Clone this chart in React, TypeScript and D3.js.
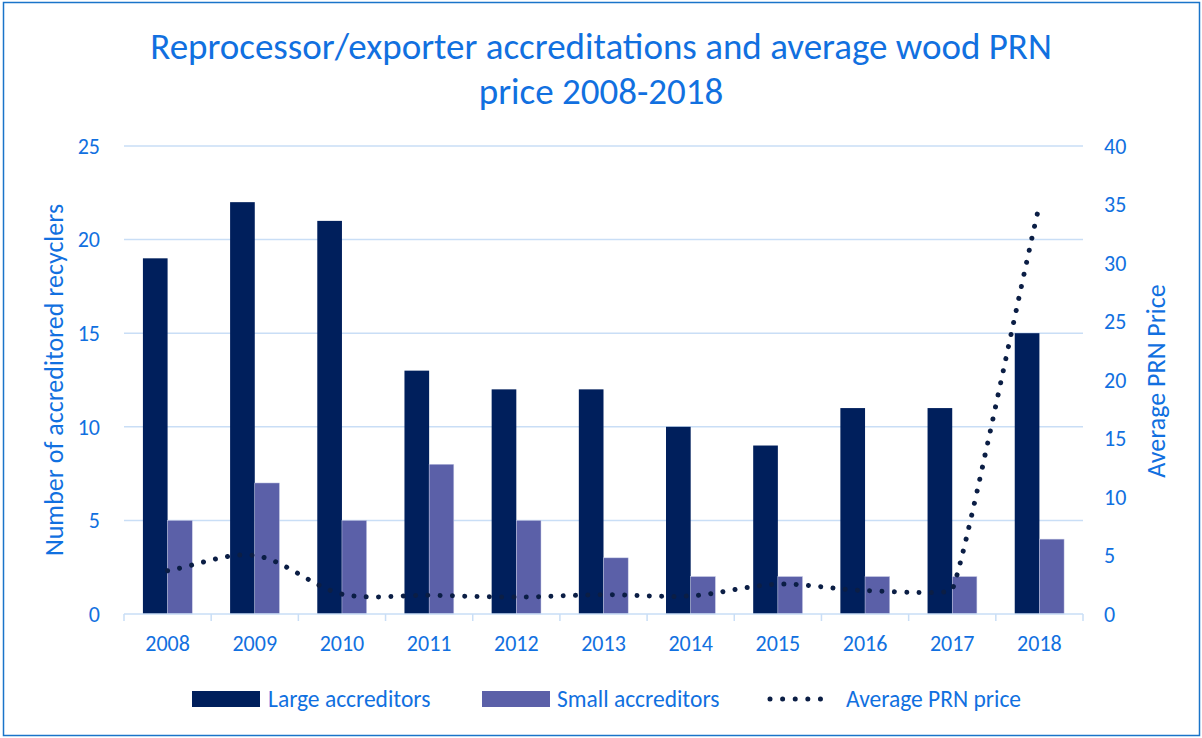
import React from "react";
import * as d3 from "d3";

const years = ["2008","2009","2010","2011","2012","2013","2014","2015","2016","2017","2018"];
const largeAccreditors = [19,22,21,13,12,12,10,9,11,11,15];
const smallAccreditors = [5,7,5,8,5,3,2,2,2,2,4];
const avgPrnPrice = [3.7,5.0,1.7,1.6,1.45,1.65,1.55,2.55,2.0,2.1,35];
const leftTicks = [0,5,10,15,20,25];
const rightTicks = [0,5,10,15,20,25,30,35,40];

const W = 1202, H = 738;
const FONT = "Carlito, Lato, sans-serif";
const BLUE = "#1170e0";
const GRID = "#c9def6";
const LARGE = "#001f5c";
const SMALL = "#5b60a8";
const LINE = "#0b1e45";

// Excel-like smoothed line: Bezier with tangent lengths limited by neighbouring segment lengths
function smoothPath(pts: [number, number][]): string {
  const p = d3.path();
  const n = pts.length;
  const dist = (a: [number, number], b: [number, number]) => Math.hypot(b[0] - a[0], b[1] - a[1]);
  const seg = pts.slice(1).map((q, i) => dist(pts[i], q));
  const unit = (i: number): [number, number] => {
    const a = pts[Math.max(0, i - 1)], b = pts[Math.min(n - 1, i + 1)];
    const l = dist(a, b) || 1;
    return [(b[0] - a[0]) / l, (b[1] - a[1]) / l];
  };
  const f = 1 / 3;
  p.moveTo(pts[0][0], pts[0][1]);
  for (let i = 0; i < n - 1; i++) {
    const d = seg[i];
    const dPrev = i > 0 ? seg[i - 1] : d;
    const dNext = i < n - 2 ? seg[i + 1] : d;
    const u1 = unit(i), u2 = unit(i + 1);
    const l1 = f * d * Math.min(1, dPrev / d);
    const l2 = f * d * Math.min(1, dNext / d) * Math.min(1, d / dNext);
    const l1b = l1 * Math.min(1, d / dPrev);
    p.bezierCurveTo(
      pts[i][0] + u1[0] * l1b, pts[i][1] + u1[1] * l1b,
      pts[i + 1][0] - u2[0] * l2, pts[i + 1][1] - u2[1] * l2,
      pts[i + 1][0], pts[i + 1][1]
    );
  }
  return p.toString();
}

export default function App() {
  const left = 124, right = 1083, top = 146, bottom = 614;
  const x = d3.scaleBand().domain(years).range([left, right]).paddingInner(0).paddingOuter(0);
  const yL = d3.scaleLinear().domain([0, 25]).range([bottom, top]);
  const yR = d3.scaleLinear().domain([0, 40]).range([bottom, top]);
  const bw = x.bandwidth();
  const barW = bw * 0.283;
  const linePts: [number, number][] = avgPrnPrice.map((v, i) => [(x(years[i]) as number) + bw / 2, yR(v)]);

  return (
    <svg width={W} height={H} style={{ position: "absolute", left: 0, top: 0 }} fontFamily={FONT}>
      <rect x={0} y={0} width={W} height={H} fill="#fff" />
      <rect x={3.5} y={2.5} width={W - 6} height={H - 5} fill="none" stroke="#1a74c9" strokeWidth={1.5} />
      <text x={601} y={59} textAnchor="middle" fill={BLUE} fontSize={37}>
        Reprocessor/exporter accreditations and average wood PRN
      </text>
      <text x={601} y={104} textAnchor="middle" fill={BLUE} fontSize={37}>
        price 2008-2018
      </text>
      {leftTicks.map((t) => (
        <g key={"l" + t}>
          {t > 0 && <line x1={left} x2={right} y1={yL(t)} y2={yL(t)} stroke={GRID} strokeWidth={1.5} />}
          <text x={100} y={yL(t)} dy="0.35em" textAnchor="end" fill={BLUE} fontSize={22}>{t}</text>
        </g>
      ))}
      {rightTicks.map((t) => (
        <text key={"r" + t} x={1104} y={yR(t)} dy="0.35em" textAnchor="start" fill={BLUE} fontSize={22}>{t}</text>
      ))}
      {years.map((yr, i) => {
        const x0 = x(yr) as number;
        const cx = x0 + bw / 2;
        return (
          <g key={yr}>
            <rect x={cx - barW} y={yL(largeAccreditors[i])} width={barW} height={bottom - yL(largeAccreditors[i])} fill={LARGE} />
            <rect x={cx} y={yL(smallAccreditors[i])} width={barW} height={bottom - yL(smallAccreditors[i])} fill={SMALL} stroke="#c7cbe6" strokeWidth={0.5} />
            <text x={cx} y={651} textAnchor="middle" fill={BLUE} fontSize={22}>{yr}</text>
          </g>
        );
      })}
      <line x1={left} x2={right} y1={bottom} y2={bottom} stroke={GRID} strokeWidth={1.5} />
      {[...years.map((y) => x(y) as number), right].map((p, i) => (
        <line key={"t" + i} x1={p} x2={p} y1={bottom} y2={bottom + 7} stroke={GRID} strokeWidth={1.5} />
      ))}
      <path d={smoothPath(linePts)} fill="none" stroke={LINE} strokeWidth={5} strokeLinecap="round" strokeDasharray="0.01 12.3" />
      <text transform={`translate(63,380) rotate(-90)`} textAnchor="middle" fill={BLUE} fontSize={26}>
        Number of accreditored recyclers
      </text>
      <text transform={`translate(1165,381) rotate(-90)`} textAnchor="middle" fill={BLUE} fontSize={26}>
        Average PRN Price
      </text>
      <rect x={192} y={691} width={68} height={16} fill={LARGE} />
      <text x={268} y={707} fill={BLUE} fontSize={23.5}>Large accreditors</text>
      <rect x={482} y={691} width={68} height={16} fill={SMALL} />
      <text x={557} y={707} fill={BLUE} fontSize={23.5}>Small accreditors</text>
      <line x1={770} x2={833} y1={699} y2={699} stroke={LINE} strokeWidth={5} strokeLinecap="round" strokeDasharray="0.01 12.6" />
      <text x={846} y={707} fill={BLUE} fontSize={23.5}>Average PRN price</text>
    </svg>
  );
}
